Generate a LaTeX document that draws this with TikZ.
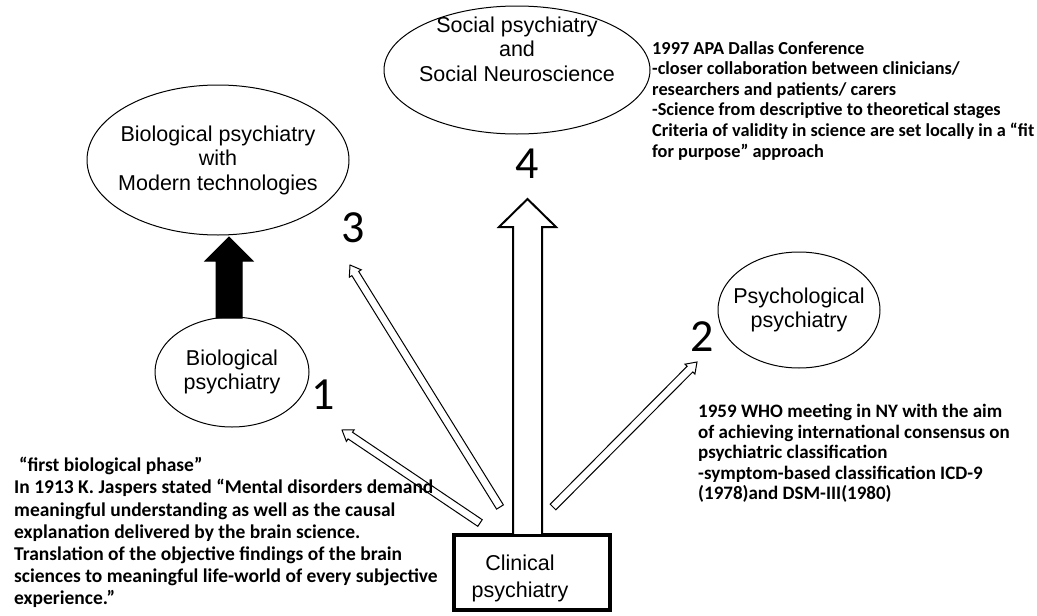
\documentclass[tikz,border=0pt]{standalone}
\usepackage{fontspec}
\setmainfont{Carlito}
\newfontfamily\arialf{Liberation Sans}
\usetikzlibrary{calc,shapes.geometric}

% style, from, to, half shaft, half head, head length
\newcommand\hollowarrow[6]{%
  \coordinate (ha-c) at ($(#3)!#6!(#2)$);
  \draw[#1] ($(#2)!#4!90:(#3)$) -- ($(ha-c)!#4!90:(#3)$) -- ($(ha-c)!#5!90:(#3)$)
    -- (#3) -- ($(ha-c)!#5!-90:(#3)$) -- ($(ha-c)!#4!-90:(#3)$) -- ($(#2)!#4!-90:(#3)$) -- cycle;
}
% raise, extra right space, lines
\newcommand\movedlines[3]{\raisebox{#1}[\height][\depth]{\begin{tabular}{@{}c@{}}#3\end{tabular}}\hspace*{#2}}

\tikzset{
  ell/.style={draw, ellipse, line width=1pt, inner xsep=-30pt, inner ysep=0pt, align=center,
    font=\arialf\fontsize{21.5}{24.5}\selectfont},
  clinbox/.style={draw, rectangle, line width=4pt, inner sep=0pt, align=center,
    minimum width=156pt, minimum height=75pt, font=\arialf\fontsize{21.5}{27}\selectfont},
  note/.style={anchor=north west, inner sep=0pt, align=left, font=\bfseries},
  num/.style={inner sep=0pt, font=\fontsize{46}{46}\selectfont},
  thinarrow/.style={draw=black, fill=white, line width=1pt, line join=miter},
  bigwhite/.style={draw=black, fill=white, line width=2pt, line join=miter},
  bigblack/.style={draw=black, fill=black, line width=1pt, line join=miter}
}

\begin{document}
\begin{tikzpicture}[x=1pt,y=-1pt]
\useasboundingbox (0,0) rectangle (1037,616);

% ellipses
\node[ell, minimum width=266pt, minimum height=128pt] (soc) at (517,70)
  {\movedlines{18pt}{0pt}{Social psychiatry\\and\\Social Neuroscience}};
\node[ell, minimum width=262pt, minimum height=150pt] (bmod) at (218,160)
  {Biological psychiatry\\with\\Modern technologies};
\node[ell, minimum width=154pt, minimum height=110pt] (bio) at (232,372)
  {Biological\\psychiatry};
\node[ell, minimum width=162pt, minimum height=116pt] (psy) at (799,310)
  {Psychological\\psychiatry};
\node[clinbox] (clin) at (532,572.5) {\movedlines{-6pt}{24pt}{Clinical\\psychiatry}};

% numbers
\node[num] (n3) at (353,228) {3};
\node[num] (n4) at (527,164) {4};
\node[num] (n1) at (323,395) {1};
\node[num] (n2) at (702,337) {2};

% arrow end points
\coordinate (bb) at (229,318);
\coordinate (bt) at (229,237);
\coordinate (b4) at (527.5,535);
\coordinate (t4) at (527.5,199);
\coordinate (s1) at (480,523);
\coordinate (e1) at (342,430);
\coordinate (s3) at (500,507);
\coordinate (e3) at (350,265);
\coordinate (s2) at (553,507);
\coordinate (e2) at (697,362);

\hollowarrow{bigblack}{bb}{bt}{13pt}{24pt}{24pt}
\hollowarrow{bigwhite}{b4}{t4}{14.5pt}{28.5pt}{28pt}
\hollowarrow{thinarrow}{s1}{e1}{4pt}{7pt}{10pt}
\hollowarrow{thinarrow}{s3}{e3}{4pt}{7pt}{10pt}
\hollowarrow{thinarrow}{s2}{e2}{4pt}{7pt}{10pt}

% notes
\node[note, font=\bfseries\fontsize{19.5}{22.2}\selectfont] (lt) at (14,457)
  {\hspace*{5pt}“first biological phase”\\
   In 1913 K. Jaspers stated “Mental disorders demand\\
   meaningful understanding as well as the causal\\
   explanation delivered by the brain science.\\
   Translation of the objective findings of the brain\\
   sciences to meaningful life-world of every subjective\\
   experience.”};
\node[note, font=\bfseries\fontsize{18.3}{20.6}\selectfont] (rt) at (652,41)
  {1997 APA Dallas Conference\\
   -closer collaboration between clinicians/\\
   researchers and patients/ carers\\
   -Science from descriptive to theoretical stages\\
   Criteria of validity in science are set locally in a “fit\\
   for purpose” approach};
\node[note, font=\bfseries\fontsize{19}{20.6}\selectfont] (rm) at (698,404)
  {1959 WHO meeting in NY with the aim\\
   of achieving international consensus on\\
   psychiatric classification\\
   -symptom-based classification ICD-9\\
   (1978)and DSM-III(1980)};
\end{tikzpicture}
\end{document}
